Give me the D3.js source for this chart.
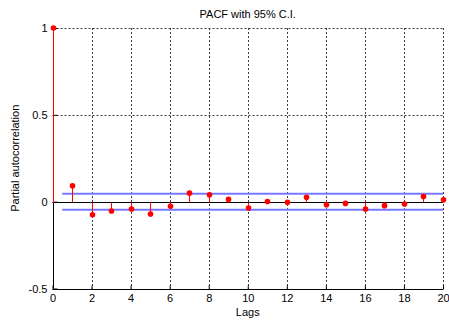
<!DOCTYPE html>
<html>
<head>
<meta charset="utf-8">
<script src="https://cdn.jsdelivr.net/npm/d3@7"></script>
<style>
  html, body { margin: 0; padding: 0; background: #fff; }
  svg { display: block; }
  text { font-family: "Liberation Sans", Arial, Helvetica, sans-serif; fill: #000; }
</style>
</head>
<body>
<svg id="chart" width="449" height="320"></svg>
<script>
// Partial autocorrelation estimates, lags 0..20
const lags = d3.range(0, 21);
const pacfValues = [1, 0.092, -0.075, -0.054, -0.042, -0.071, -0.027, 0.049, 0.040, 0.013,
  -0.037, 0.001, -0.004, 0.025, -0.018, -0.010, -0.042, -0.023, -0.014, 0.030, 0.011];
// 95% confidence bounds
const confBound = [0.046, -0.046];
const xTicks = [0, 2, 4, 6, 8, 10, 12, 14, 16, 18, 20];
const yTicks = [-0.5, 0, 0.5, 1];

const svg = d3.select("#chart");
const plotLeft = 52.5, plotRight = 443, plotTop = 28, plotBottom = 288.5;

const x = d3.scaleLinear().domain([0, 20]).range([plotLeft, plotRight]);
const y = d3.scaleLinear().domain([-0.5, 1]).range([plotBottom, plotTop]);

// Grid lines
const grid = svg.append("g").attr("stroke", "#3c3c3c").attr("stroke-width", 1)
  .attr("stroke-dasharray", "2,2");
xTicks.filter(t => t !== 0).forEach(t => {
  grid.append("line").attr("x1", Math.round(x(t)) + 0.5).attr("x2", Math.round(x(t)) + 0.5)
    .attr("y1", y(1)).attr("y2", y(-0.5));
});
yTicks.filter(t => t !== -0.5).forEach(t => {
  grid.append("line").attr("x1", x(0)).attr("x2", x(20))
    .attr("y1", Math.round(y(t)) + 0.5).attr("y2", Math.round(y(t)) + 0.5);
});

// Axes
const xAxis = d3.axisBottom(x).tickValues(xTicks).tickSize(-4).tickPadding(5).tickFormat(d3.format("d"));
const yAxis = d3.axisLeft(y).tickValues(yTicks).tickSize(-4).tickPadding(6)
  .tickFormat(d => String(d));

const gx = svg.append("g").attr("transform", `translate(0,${Math.round(plotBottom) + 0.5})`).call(xAxis);
const gy = svg.append("g").attr("transform", `translate(${Math.round(plotLeft) + 0.5},0)`).call(yAxis);
[gx, gy].forEach(g => {
  g.selectAll("path.domain").attr("stroke", "#000");
  g.selectAll(".tick line").attr("stroke", "#000");
  g.selectAll("text").style("font-size", "11px").attr("fill", "#000");
});
gx.select("path.domain").attr("d", `M${x(0)},0H${x(20)}`);
gy.select("path.domain").attr("d", `M0,${y(-0.5)}V${y(1)}`);

// Zero line
svg.append("line").attr("x1", x(0)).attr("x2", x(20))
  .attr("y1", Math.round(y(0)) + 0.5).attr("y2", Math.round(y(0)) + 0.5)
  .attr("stroke", "#000").attr("stroke-width", 1);

// Confidence bounds
confBound.forEach(b => {
  svg.append("line").attr("x1", x(0.5)).attr("x2", x(20))
    .attr("y1", y(b)).attr("y2", y(b))
    .attr("stroke", "#7878ff").attr("stroke-width", 2);
});

// Stems
svg.append("g").selectAll("line").data(lags).join("line")
  .attr("x1", d => Math.round(x(d)) + 0.5).attr("x2", d => Math.round(x(d)) + 0.5)
  .attr("y1", Math.round(y(0)) + 0.5).attr("y2", d => y(pacfValues[d]))
  .attr("stroke", "#ff0000").attr("stroke-width", 1);

// Markers
svg.append("g").selectAll("circle").data(lags).join("circle")
  .attr("cx", d => Math.round(x(d)) + 0.5).attr("cy", d => y(pacfValues[d]))
  .attr("r", 2.8).attr("fill", "#ff0000");

// Labels
svg.append("text").attr("x", (plotLeft + plotRight) / 2).attr("y", 18)
  .attr("text-anchor", "middle").style("font-size", "11px").text("PACF with 95% C.I.");
svg.append("text").attr("x", (plotLeft + plotRight) / 2).attr("y", 316)
  .attr("text-anchor", "middle").style("font-size", "11px").text("Lags");
svg.append("text").attr("transform", `translate(19,${(plotTop + plotBottom) / 2}) rotate(-90)`)
  .attr("text-anchor", "middle").style("font-size", "11px").text("Partial autocorrelation");
</script>
</body>
</html>
